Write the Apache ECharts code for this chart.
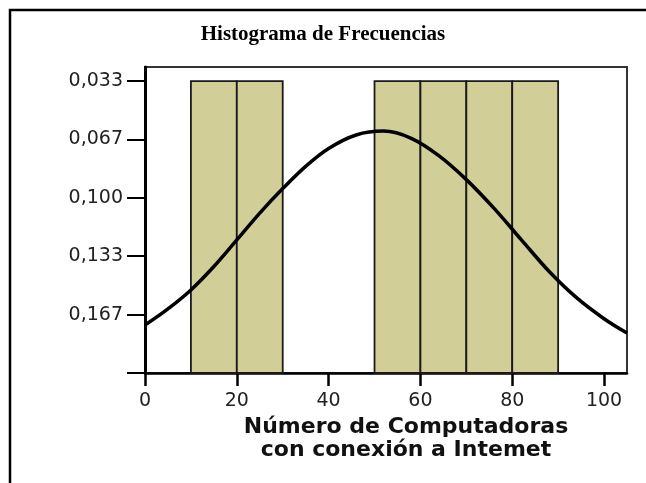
<!DOCTYPE html>
<html>
<head>
<meta charset="utf-8">
<script src="https://cdn.jsdelivr.net/npm/echarts@6/dist/echarts.min.js"></script>
<style>
  html, body { margin: 0; padding: 0; background: #fff; }
  #chart { width: 646px; height: 483px; }
</style>
</head>
<body>
<div id="chart"></div>
<script>
// Histogram bins (lower edge, upper edge) and bar heights
const binStarts = [10, 20, 50, 60, 70, 80];
const binEnds   = [20, 30, 60, 70, 80, 90];
const binHeights = [0.0333333, 0.0333333, 0.0333333, 0.0333333, 0.0333333, 0.0333333];

// Fitted normal curve, sampled along the x axis
const curveX = [0, 5, 10, 15, 20, 25, 30, 35, 40, 46, 52, 58, 64, 70, 76, 82, 88, 94, 100, 105];
const curveY = [0.1726, 0.1634, 0.1526, 0.1392, 0.1240, 0.1087, 0.0947, 0.0820, 0.0718, 0.0641, 0.0619,
                0.0660, 0.0759, 0.0896, 0.1059, 0.1240, 0.1419, 0.1570, 0.1690, 0.1772];

// Axis ticks and labels
const xTicks = [0, 20, 40, 60, 80, 100];
const yTickValues = [0.0333333, 0.0666667, 0.1, 0.1333333, 0.1666667, 0.2];
const yTickLabels = ['0,033', '0,067', '0,100', '0,133', '0,167', ''];

const titleText = 'Histograma de Frecuencias';
const xAxisName = 'Número de Computadoras\ncon conexión a Intemet';

const yMin = 0.0253;
const yMax = 0.2;

const bars = binStarts.map((s, i) => [s, binEnds[i], binHeights[i]]);
const curve = curveX.map((x, i) => [x, curveY[i]]);

const chart = echarts.init(document.getElementById('chart'));
chart.setOption({
  animation: false,
  backgroundColor: '#fff',
  title: {
    text: titleText,
    left: 'center',
    top: 24,
    padding: 0,
    textStyle: {
      fontFamily: 'Liberation Serif',
      fontWeight: 'bold',
      fontSize: 21,
      color: '#000'
    }
  },
  graphic: [{
    type: 'rect',
    shape: { x: 10, y: 10, width: 700, height: 600 },
    style: { fill: 'none', stroke: '#000', lineWidth: 2.5 },
    silent: true
  }],
  grid: {
    left: 145, right: 19, top: 67, bottom: 110,
    show: true,
    borderColor: '#333',
    borderWidth: 2,
    backgroundColor: 'transparent'
  },
  xAxis: {
    type: 'value',
    min: 0,
    max: 105,
    interval: 20,
    name: xAxisName,
    nameLocation: 'middle',
    nameGap: 42,
    nameTextStyle: {
      fontFamily: 'DejaVu Sans',
      fontWeight: 'bold',
      fontSize: 22,
      lineHeight: 23,
      color: '#111',
      padding: [0, 0, 0, 40]
    },
    axisLine: { show: true, lineStyle: { color: '#000', width: 2.5 } },
    axisTick: { show: true, length: 13, customValues: xTicks, lineStyle: { color: '#000', width: 2.5 } },
    axisLabel: {
      customValues: xTicks,
      margin: 19,
      fontFamily: 'DejaVu Sans',
      fontSize: 19,
      color: '#222'
    },
    splitLine: { show: false }
  },
  yAxis: {
    type: 'value',
    inverse: true,
    min: yMin,
    max: yMax,
    axisLine: { show: true, lineStyle: { color: '#000', width: 3 } },
    axisTick: { show: true, length: 18, customValues: yTickValues, lineStyle: { color: '#000', width: 2 } },
    axisLabel: {
      customValues: yTickValues.slice(0, 5),
      margin: 22,
      fontFamily: 'DejaVu Sans',
      fontSize: 19,
      color: '#222',
      formatter: function (v) {
        let best = 0;
        for (let i = 1; i < yTickValues.length; i++) {
          if (Math.abs(yTickValues[i] - v) < Math.abs(yTickValues[best] - v)) best = i;
        }
        return yTickLabels[best];
      }
    },
    splitLine: { show: false }
  },
  series: [
    {
      type: 'custom',
      data: bars,
      encode: { x: [0, 1], y: 2 },
      z: 2,
      renderItem: function (params, api) {
        const topLeft = api.coord([api.value(0), api.value(2)]);
        const bottomRight = api.coord([api.value(1), yMax]);
        return {
          type: 'rect',
          shape: {
            x: topLeft[0],
            y: topLeft[1],
            width: bottomRight[0] - topLeft[0],
            height: bottomRight[1] - topLeft[1]
          },
          style: { fill: '#d2ce97', stroke: '#1a1a1a', lineWidth: 1.8 }
        };
      }
    },
    {
      type: 'line',
      data: curve,
      smooth: 0.35,
      symbol: 'none',
      z: 3,
      lineStyle: { color: '#000', width: 3.5 }
    }
  ]
});
</script>
</body>
</html>
